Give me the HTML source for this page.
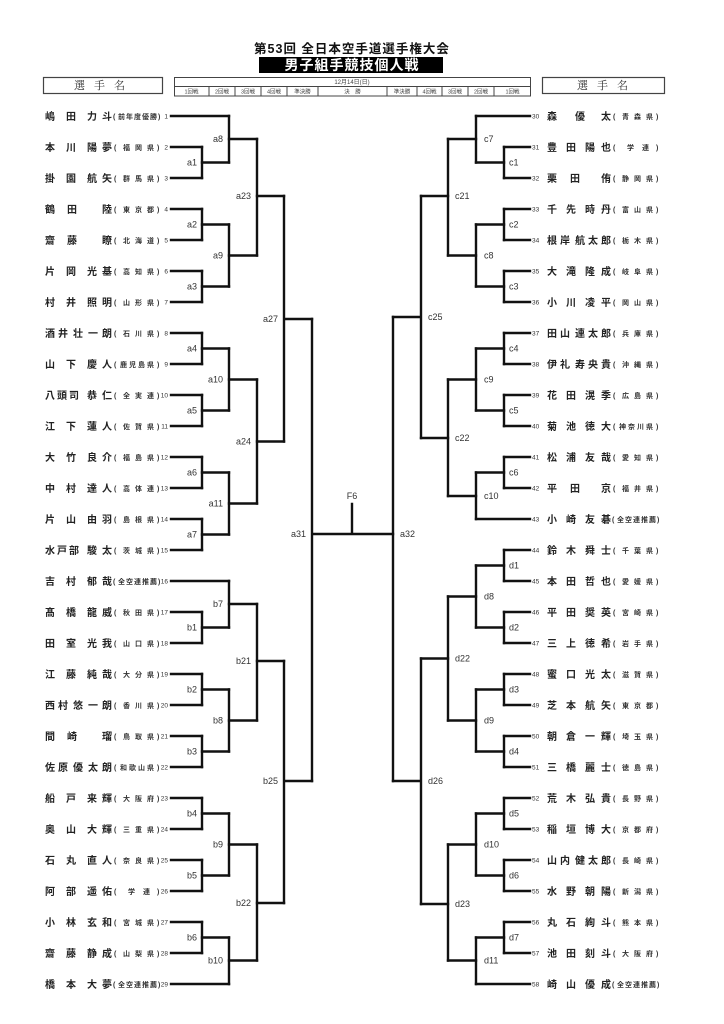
<!DOCTYPE html>
<html><head><meta charset="utf-8">
<style>
html,body{margin:0;padding:0;background:#fff;}
svg{display:block;}
.nm{font-family:"Liberation Sans","Noto Sans CJK JP",sans-serif;font-weight:bold;font-size:10px;fill:#222;}
.pf{font-family:"Liberation Sans","Noto Sans CJK JP",sans-serif;font-weight:bold;font-size:7px;fill:#333;}
.no{font-family:"Liberation Sans",sans-serif;font-size:6.5px;fill:#333;}
.lb{font-family:"Liberation Sans",sans-serif;font-size:9px;fill:#333;}
.hd{font-family:"Liberation Serif","Noto Serif CJK SC",serif;font-size:11px;fill:#333;}
.tb{font-family:"Liberation Sans","Noto Sans CJK JP",sans-serif;font-size:5.5px;fill:#444;}
</style></head><body>
<svg width="724" height="1024" viewBox="0 0 724 1024" xmlns="http://www.w3.org/2000/svg">
<rect width="724" height="1024" fill="#fff"/>
<!-- title -->
<text x="352" y="53" text-anchor="middle" style="font-family:'Liberation Sans','Noto Sans CJK JP',sans-serif;font-weight:bold;font-size:12.5px;letter-spacing:1px;fill:#111">第53回 全日本空手道選手権大会</text>
<rect x="259" y="57" width="184" height="16" fill="#000"/>
<text x="352" y="70" text-anchor="middle" style="font-family:'Liberation Sans','Noto Sans CJK JP',sans-serif;font-weight:bold;font-size:14px;letter-spacing:1px;fill:#fff">男子組手競技個人戦</text>
<!-- header boxes -->
<rect x="43.5" y="77.5" width="119" height="16" fill="none" stroke="#444" stroke-width="1.2"/>
<text class="hd" x="74 94 114" y="89">選手名</text>
<rect x="542.5" y="77.5" width="122" height="16" fill="none" stroke="#444" stroke-width="1.2"/>
<text class="hd" x="577 597 617" y="89">選手名</text>
<g fill="none" stroke="#444" stroke-width="1">
<rect x="174.5" y="77.5" width="356" height="18.5"/>
<path d="M174.5 86.5H530.5M209 86.5V96M235 86.5V96M261 86.5V96M287 86.5V96M318 86.5V96M387 86.5V96M417 86.5V96M442 86.5V96M468 86.5V96M494 86.5V96"/>
</g>
<text class="tb" x="352" y="84" text-anchor="middle" style="font-size:6px">12月14日(日)</text>
<g class="tb" text-anchor="middle">
<text x="191.5" y="93.5">1回戦</text><text x="222" y="93.5">2回戦</text><text x="248" y="93.5">3回戦</text><text x="274" y="93.5">4回戦</text><text x="302.5" y="93.5">準決勝</text><text x="352.5" y="93.5">決　勝</text><text x="402" y="93.5">準決勝</text><text x="429.5" y="93.5">4回戦</text><text x="455" y="93.5">3回戦</text><text x="481" y="93.5">2回戦</text><text x="512.5" y="93.5">1回戦</text>
</g>

<!-- bracket lines -->
<g fill="none" stroke="#111" stroke-width="2.4" stroke-linecap="square">
<path d="M171 116H229M171 147H202M171 178H202M171 209H202M171 240H202M171 271H202M171 302H202M171 333H202M171 364H202M171 395H202M171 426H202M171 457H202M171 488H202M171 519H202M171 550H202M171 581H229M171 612H202M171 643H202M171 674H202M171 705H202M171 736H202M171 767H202M171 798H202M171 829H202M171 860H202M171 891H202M171 922H202M171 953H202M171 984H229"/>
<path d="M202 147V178M202 209V240M202 271V302M202 333V364M202 395V426M202 457V488M202 519V550M202 612V643M202 674V705M202 736V767M202 798V829M202 860V891M202 922V953"/>
<path d="M202 162.5H229M202 224.5H229M202 286.5H229M202 348.5H229M202 410.5H229M202 472.5H229M202 534.5H229M202 627.5H229M202 689.5H229M202 751.5H229M202 813.5H229M202 875.5H229M202 937.5H229"/>
<path d="M229 116V162.5M229 224.5V286.5M229 348.5V410.5M229 472.5V534.5M229 581V627.5M229 689.5V751.5M229 813.5V875.5M229 937.5V984"/>
<path d="M229 139H257M229 255.5H257M229 379.5H257M229 503.5H257M229 604H257M229 720.5H257M229 844.5H257M229 960.5H257"/>
<path d="M257 139V255.5M257 379.5V503.5M257 604V720.5M257 844.5V960.5"/>
<path d="M257 196H284M257 441.5H284M257 661H284M257 903H284"/>
<path d="M284 196V441.5M284 661V903M284 319H312M284 781H312"/>
<path d="M312 319V781M312 534H393M352 504V534"/>

<path d="M530 116H476M530 147H504M530 178H504M530 209H504M530 240H504M530 271H504M530 302H504M530 333H504M530 364H504M530 395H504M530 426H504M530 457H504M530 488H504M530 519H476M530 550H504M530 581H504M530 612H504M530 643H504M530 674H504M530 705H504M530 736H504M530 767H504M530 798H504M530 829H504M530 860H504M530 891H504M530 922H504M530 953H504M530 984H476"/>
<path d="M504 147V178M504 209V240M504 271V302M504 333V364M504 395V426M504 457V488M504 550V581M504 612V643M504 674V705M504 736V767M504 798V829M504 860V891M504 922V953"/>
<path d="M504 162.5H476M504 224.5H476M504 286.5H476M504 348.5H476M504 410.5H476M504 472.5H476M504 565.5H476M504 627.5H476M504 689.5H476M504 751.5H476M504 813.5H476M504 875.5H476M504 937.5H476"/>
<path d="M476 116V162.5M476 224.5V286.5M476 348.5V410.5M476 472.5V519M476 565.5V627.5M476 689.5V751.5M476 813.5V875.5M476 937.5V984"/>
<path d="M476 139H448M476 255.5H448M476 379.5H448M476 496H448M476 596.5H448M476 720.5H448M476 844.5H448M476 960.5H448"/>
<path d="M448 139V255.5M448 379.5V496M448 596.5V720.5M448 844.5V960.5"/>
<path d="M448 196H421M448 438H421M448 658.5H421M448 904H421"/>
<path d="M421 196V438M421 658.5V904M421 317H393M421 781H393"/>
<path d="M393 317V781"/>
</g>

<g class="lb" text-anchor="end">
<text x="197" y="165.7">a1</text><text x="197" y="227.7">a2</text><text x="197" y="289.7">a3</text><text x="197" y="351.7">a4</text><text x="197" y="413.7">a5</text><text x="197" y="475.7">a6</text><text x="197" y="537.7">a7</text><text x="197" y="630.7">b1</text><text x="197" y="692.7">b2</text><text x="197" y="754.7">b3</text><text x="197" y="816.7">b4</text><text x="197" y="878.7">b5</text><text x="197" y="940.7">b6</text>
<text x="223" y="142.2">a8</text><text x="223" y="258.7">a9</text><text x="223" y="382.7">a10</text><text x="223" y="506.7">a11</text><text x="223" y="607.2">b7</text><text x="223" y="723.7">b8</text><text x="223" y="847.7">b9</text><text x="223" y="963.7">b10</text>
<text x="251" y="199.2">a23</text><text x="251" y="444.7">a24</text><text x="251" y="664.2">b21</text><text x="251" y="906.2">b22</text>
<text x="278" y="322.2">a27</text><text x="278" y="784.2">b25</text>
<text x="306" y="537.2">a31</text>
</g>
<g class="lb">
<text x="509" y="165.7">c1</text><text x="509" y="227.7">c2</text><text x="509" y="289.7">c3</text><text x="509" y="351.7">c4</text><text x="509" y="413.7">c5</text><text x="509" y="475.7">c6</text><text x="509" y="568.7">d1</text><text x="509" y="630.7">d2</text><text x="509" y="692.7">d3</text><text x="509" y="754.7">d4</text><text x="509" y="816.7">d5</text><text x="509" y="878.7">d6</text><text x="509" y="940.7">d7</text>
<text x="484" y="142.2">c7</text><text x="484" y="258.7">c8</text><text x="484" y="382.7">c9</text><text x="484" y="499.2">c10</text><text x="484" y="599.7">d8</text><text x="484" y="723.7">d9</text><text x="484" y="847.7">d10</text><text x="484" y="963.7">d11</text>
<text x="455" y="199.2">c21</text><text x="455" y="441.2">c22</text><text x="455" y="661.7">d22</text><text x="455" y="907.2">d23</text>
<text x="428" y="320.2">c25</text><text x="428" y="784.2">d26</text>
<text x="400" y="537.2">a32</text>
</g>
<text class="lb" x="352" y="499" text-anchor="middle">F6</text>

<g class="nm">
<text x="45 66 87 102" y="120">嶋田力斗</text>
<text x="45 66 87 102" y="151">本川陽夢</text>
<text x="45 66 87 102" y="182">掛園航矢</text>
<text x="45 67 102" y="213">鶴田陸</text>
<text x="45 67 102" y="244">齋藤瞭</text>
<text x="45 66 87 102" y="275">片岡光基</text>
<text x="45 66 87 102" y="306">村井照明</text>
<text x="45 58 73 88 102" y="337">酒井壮一朗</text>
<text x="45 66 87 102" y="368">山下慶人</text>
<text x="45 57 69 87 102" y="399">八頭司恭仁</text>
<text x="45 66 87 102" y="430">江下蓮人</text>
<text x="45 66 87 102" y="461">大竹良介</text>
<text x="45 66 87 102" y="492">中村達人</text>
<text x="45 66 87 102" y="523">片山由羽</text>
<text x="45 57 69 87 102" y="554">水戸部駿太</text>
<text x="45 66 87 102" y="585">吉村郁哉</text>
<text x="45 66 87 102" y="616">髙橋龍威</text>
<text x="45 66 87 102" y="647">田室光我</text>
<text x="45 66 87 102" y="678">江藤純哉</text>
<text x="45 58 73 88 102" y="709">西村悠一朗</text>
<text x="45 67 102" y="740">間崎瑠</text>
<text x="45 58 73 88 102" y="771">佐原優太朗</text>
<text x="45 66 87 102" y="802">船戸来輝</text>
<text x="45 66 87 102" y="833">奥山大輝</text>
<text x="45 66 87 102" y="864">石丸直人</text>
<text x="45 66 87 102" y="895">阿部遥佑</text>
<text x="45 66 87 102" y="926">小林玄和</text>
<text x="45 66 87 102" y="957">齋藤静成</text>
<text x="45 66 87 102" y="988">橋本大夢</text>
</g>
<g class="pf">
<text x="113 118 126 134 142 150 158" y="119">(前年度優勝)</text>
<text x="114 123 135 147 157" y="150">(福岡県)</text>
<text x="114 123 135 147 157" y="181">(群馬県)</text>
<text x="114 123 135 147 157" y="212">(東京都)</text>
<text x="114 123 135 147 157" y="243">(北海道)</text>
<text x="114 123 135 147 157" y="274">(高知県)</text>
<text x="114 123 135 147 157" y="305">(山形県)</text>
<text x="114 123 135 147 157" y="336">(石川県)</text>
<text x="114 120 129 138 147 157" y="367">(鹿児島県)</text>
<text x="114 123 135 147 157" y="398">(全実連)</text>
<text x="114 123 135 147 157" y="429">(佐賀県)</text>
<text x="114 123 135 147 157" y="460">(福島県)</text>
<text x="114 123 135 147 157" y="491">(高体連)</text>
<text x="114 123 135 147 157" y="522">(島根県)</text>
<text x="114 123 135 147 157" y="553">(茨城県)</text>
<text x="113 118 126 134 142 150 158" y="584">(全空連推薦)</text>
<text x="114 123 135 147 157" y="615">(秋田県)</text>
<text x="114 123 135 147 157" y="646">(山口県)</text>
<text x="114 123 135 147 157" y="677">(大分県)</text>
<text x="114 123 135 147 157" y="708">(香川県)</text>
<text x="114 123 135 147 157" y="739">(鳥取県)</text>
<text x="114 120 129 138 147 157" y="770">(和歌山県)</text>
<text x="114 123 135 147 157" y="801">(大阪府)</text>
<text x="114 123 135 147 157" y="832">(三重県)</text>
<text x="114 123 135 147 157" y="863">(奈良県)</text>
<text x="114 128 143 157" y="894">(学連)</text>
<text x="114 123 135 147 157" y="925">(宮城県)</text>
<text x="114 123 135 147 157" y="956">(山梨県)</text>
<text x="113 118 126 134 142 150 158" y="987">(全空連推薦)</text>
</g>
<g class="no" text-anchor="end">
<text x="168" y="118.3">1</text><text x="168" y="149.3">2</text><text x="168" y="180.3">3</text><text x="168" y="211.3">4</text><text x="168" y="242.3">5</text><text x="168" y="273.3">6</text><text x="168" y="304.3">7</text><text x="168" y="335.3">8</text><text x="168" y="366.3">9</text><text x="168" y="397.3">10</text><text x="168" y="428.3">11</text><text x="168" y="459.3">12</text><text x="168" y="490.3">13</text><text x="168" y="521.3">14</text><text x="168" y="552.3">15</text><text x="168" y="583.3">16</text><text x="168" y="614.3">17</text><text x="168" y="645.3">18</text><text x="168" y="676.3">19</text><text x="168" y="707.3">20</text><text x="168" y="738.3">21</text><text x="168" y="769.3">22</text><text x="168" y="800.3">23</text><text x="168" y="831.3">24</text><text x="168" y="862.3">25</text><text x="168" y="893.3">26</text><text x="168" y="924.3">27</text><text x="168" y="955.3">28</text><text x="168" y="986.3">29</text>
</g>

<g class="nm">
<text x="547 575 601" y="120">森優太</text>
<text x="547 566 585 601" y="151">豊田陽也</text>
<text x="547 570 601" y="182">栗田侑</text>
<text x="547 566 585 601" y="213">千先時丹</text>
<text x="547 560 575 588 601" y="244">根岸航太郎</text>
<text x="547 566 585 601" y="275">大滝隆成</text>
<text x="547 566 585 601" y="306">小川凌平</text>
<text x="547 560 575 588 601" y="337">田山連太郎</text>
<text x="547 560 575 588 601" y="368">伊礼寿央貴</text>
<text x="547 566 585 601" y="399">花田滉季</text>
<text x="547 566 585 601" y="430">菊池徳大</text>
<text x="547 566 585 601" y="461">松浦友哉</text>
<text x="547 570 601" y="492">平田京</text>
<text x="547 566 585 601" y="523">小崎友碁</text>
<text x="547 566 585 601" y="554">鈴木舜士</text>
<text x="547 566 585 601" y="585">本田哲也</text>
<text x="547 566 585 601" y="616">平田奨英</text>
<text x="547 566 585 601" y="647">三上徳希</text>
<text x="547 566 585 601" y="678">蜜口光太</text>
<text x="547 566 585 601" y="709">芝本航矢</text>
<text x="547 566 585 601" y="740">朝倉一輝</text>
<text x="547 566 585 601" y="771">三橋麗士</text>
<text x="547 566 585 601" y="802">荒木弘貴</text>
<text x="547 566 585 601" y="833">稲垣博大</text>
<text x="547 560 575 588 601" y="864">山内健太郎</text>
<text x="547 566 585 601" y="895">水野朝陽</text>
<text x="547 566 585 601" y="926">丸石絢斗</text>
<text x="547 566 585 601" y="957">池田刻斗</text>
<text x="547 566 585 601" y="988">崎山優成</text>
</g>
<g class="pf">
<text x="613 622 634 646 656" y="119">(青森県)</text>
<text x="613 627 642 656" y="150">(学連)</text>
<text x="613 622 634 646 656" y="181">(静岡県)</text>
<text x="613 622 634 646 656" y="212">(富山県)</text>
<text x="613 622 634 646 656" y="243">(栃木県)</text>
<text x="613 622 634 646 656" y="274">(岐阜県)</text>
<text x="613 622 634 646 656" y="305">(岡山県)</text>
<text x="613 622 634 646 656" y="336">(兵庫県)</text>
<text x="613 622 634 646 656" y="367">(沖縄県)</text>
<text x="613 622 634 646 656" y="398">(広島県)</text>
<text x="613 619 628 637 646 656" y="429">(神奈川県)</text>
<text x="613 622 634 646 656" y="460">(愛知県)</text>
<text x="613 622 634 646 656" y="491">(福井県)</text>
<text x="612 617 625 633 641 649 657" y="522">(全空連推薦)</text>
<text x="613 622 634 646 656" y="553">(千葉県)</text>
<text x="613 622 634 646 656" y="584">(愛媛県)</text>
<text x="613 622 634 646 656" y="615">(宮崎県)</text>
<text x="613 622 634 646 656" y="646">(岩手県)</text>
<text x="613 622 634 646 656" y="677">(滋賀県)</text>
<text x="613 622 634 646 656" y="708">(東京都)</text>
<text x="613 622 634 646 656" y="739">(埼玉県)</text>
<text x="613 622 634 646 656" y="770">(徳島県)</text>
<text x="613 622 634 646 656" y="801">(長野県)</text>
<text x="613 622 634 646 656" y="832">(京都府)</text>
<text x="613 622 634 646 656" y="863">(長崎県)</text>
<text x="613 622 634 646 656" y="894">(新潟県)</text>
<text x="613 622 634 646 656" y="925">(熊本県)</text>
<text x="613 622 634 646 656" y="956">(大阪府)</text>
<text x="612 617 625 633 641 649 657" y="987">(全空連推薦)</text>
</g>
<g class="no">
<text x="532" y="118.3">30</text><text x="532" y="149.3">31</text><text x="532" y="180.3">32</text><text x="532" y="211.3">33</text><text x="532" y="242.3">34</text><text x="532" y="273.3">35</text><text x="532" y="304.3">36</text><text x="532" y="335.3">37</text><text x="532" y="366.3">38</text><text x="532" y="397.3">39</text><text x="532" y="428.3">40</text><text x="532" y="459.3">41</text><text x="532" y="490.3">42</text><text x="532" y="521.3">43</text><text x="532" y="552.3">44</text><text x="532" y="583.3">45</text><text x="532" y="614.3">46</text><text x="532" y="645.3">47</text><text x="532" y="676.3">48</text><text x="532" y="707.3">49</text><text x="532" y="738.3">50</text><text x="532" y="769.3">51</text><text x="532" y="800.3">52</text><text x="532" y="831.3">53</text><text x="532" y="862.3">54</text><text x="532" y="893.3">55</text><text x="532" y="924.3">56</text><text x="532" y="955.3">57</text><text x="532" y="986.3">58</text>
</g>
</svg>
</body></html>
